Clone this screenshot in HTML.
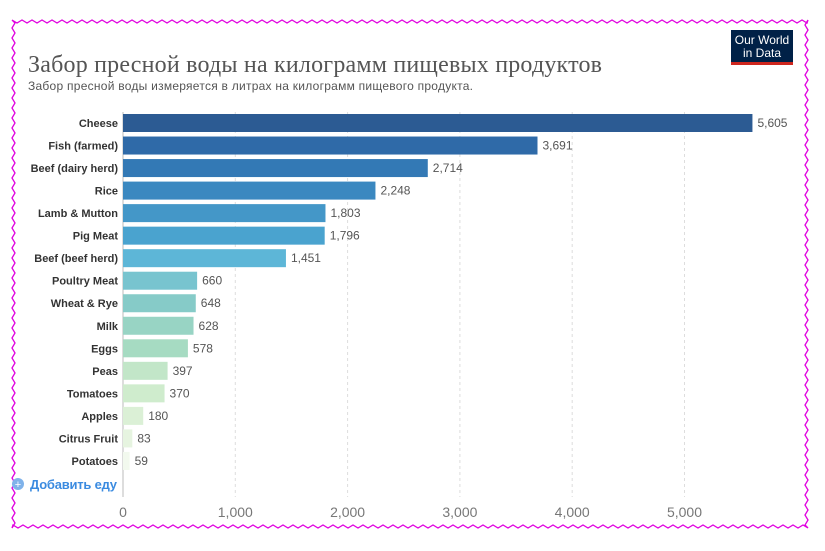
<!DOCTYPE html>
<html><head><meta charset="utf-8"><style>
body{margin:0;background:#fff;width:825px;height:546px;overflow:hidden;font-family:"Liberation Sans",sans-serif}
</style></head><body>
<svg width="825" height="546" xmlns="http://www.w3.org/2000/svg">
<path id="border" fill="none" stroke="#e000e0" stroke-width="1.3"/>
<text x="28" y="72" font-family="Liberation Serif,serif" font-size="24" fill="#555" textLength="574">Забор пресной воды на килограмм пищевых продуктов</text>
<text x="28" y="90" font-size="12" fill="#555" textLength="445">Забор пресной воды измеряется в литрах на килограмм пищевого продукта.</text>
<g>
<rect x="731" y="30" width="62" height="32" fill="#002147"/>
<rect x="731" y="62" width="62" height="3" fill="#ce261e"/>
<text x="762" y="44" font-size="12" fill="#fff" text-anchor="middle">Our World</text>
<text x="762" y="57" font-size="12" fill="#fff" text-anchor="middle">in Data</text>
</g>
<g id="grid"></g><g id="bars"></g>
<g>
<circle cx="18" cy="484" r="6" fill="#7fb2ea"/><text x="18" y="488" font-size="11" fill="#fff" text-anchor="middle">+</text>
<text x="30" y="489" font-size="13" fill="#3b8be0" font-weight="bold" textLength="87">Добавить еду</text>
</g>
</svg>
<script>
const categories=["Cheese","Fish (farmed)","Beef (dairy herd)","Rice","Lamb & Mutton","Pig Meat","Beef (beef herd)","Poultry Meat","Wheat & Rye","Milk","Eggs","Peas","Tomatoes","Apples","Citrus Fruit","Potatoes"];
const values=[5605,3691,2714,2248,1803,1796,1451,660,648,628,578,397,370,180,83,59];
const ticks=[0,1000,2000,3000,4000,5000];
const tickLabels=["0","1,000","2,000","3,000","4,000","5,000"];
const colors=["#2c5b93","#2f6aa8","#3379b5","#3b88c0","#4497c8","#4aa3cf","#5db6d7","#78c4cf","#86cbc8","#98d4c4","#a6dbc2","#c2e6c8","#cfeccd","#dbf0d6","#e6f4e0","#f2f9ee"];
const NS="http://www.w3.org/2000/svg";
const x=v=>123+v*0.1123;
const y=i=>114+i*22.53;
function mk(t,a,p,txt){const e=document.createElementNS(NS,t);for(const k in a)e.setAttribute(k,a[k]);if(txt!=null)e.textContent=txt;p.appendChild(e);return e;}
const grid=document.getElementById('grid'),bars=document.getElementById('bars');
ticks.forEach((t,i)=>{
 const l=mk('line',{x1:x(t),x2:x(t),y1:112,y2:497,stroke:t?"#ddd":"#bbb","stroke-dasharray":t?"3,3":"none"},grid);
 
 
 const tx=mk('text',{x:x(t),y:517,"font-size":14,fill:"#777","text-anchor":"middle"},grid,tickLabels[i]);
 
 
});
categories.forEach((c,i)=>{
 const lb=mk('text',{x:118,y:y(i)+13,"font-size":11,fill:"#333","text-anchor":"end","font-weight":"bold"},bars,c);
 
 
 const r=mk('rect',{x:x(0),y:y(i),width:x(values[i])-x(0),height:18,fill:colors[i]},bars);
 
 
 const v=mk('text',{x:x(values[i])+5,y:y(i)+13,"font-size":12,fill:"#555"},bars,values[i].toLocaleString('en-US'));
 
 
});
const pts=[];let k=0;
for(let px=12;px<=808;px+=5)pts.push([px,20+((k++)%2?3:0)]);
for(let py=20;py<=528;py+=5)pts.push([808-((k++)%2?3:0),py]);
for(let px=808;px>=12;px-=5)pts.push([px,528-((k++)%2?3:0)]);
for(let py=528;py>=20;py-=5)pts.push([12+((k++)%2?3:0),py]);
document.getElementById('border').setAttribute('d',"M"+pts.map(p=>p.join(",")).join("L")+"Z");
</script>
</body></html>
